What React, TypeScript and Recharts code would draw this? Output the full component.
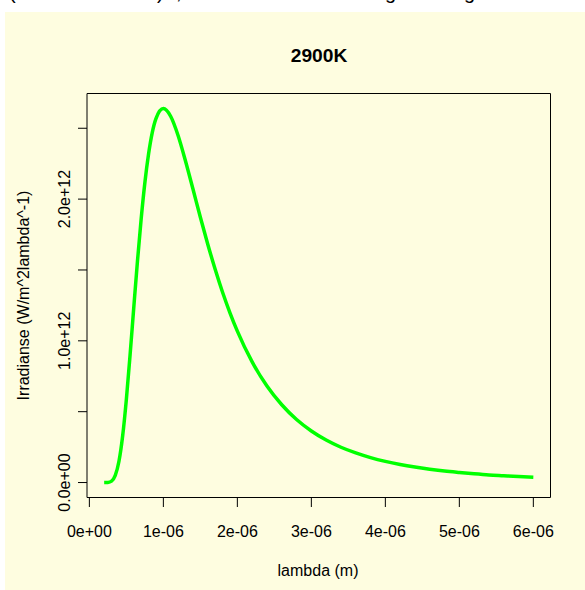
import React from 'react';
import { LineChart, Line, XAxis, YAxis, ReferenceArea } from 'recharts';

// wavelength (micrometres) and irradiance (units of 1e12 W/m^2/m)
const lambdaUm = [
  0.2, 0.25, 0.3, 0.35, 0.4, 0.45, 0.5, 0.55, 0.6, 0.65, 0.7, 0.75, 0.8, 0.9,
  1.0, 1.1, 1.2, 1.3, 1.4, 1.5, 1.6, 1.7, 1.8, 1.9, 2.0, 2.2, 2.4, 2.6, 2.8,
  3.0, 3.2, 3.4, 3.6, 3.8, 4.0, 4.2, 4.4, 4.6, 4.8, 5.0, 5.2, 5.4, 5.6, 5.8, 6.0,
];
const irradiance = [
  0.0, 0.001, 0.010, 0.050, 0.150, 0.330, 0.587, 0.899, 1.234, 1.562, 1.861, 2.116, 2.318, 2.568,
  2.639, 2.583, 2.447, 2.267, 2.071, 1.872, 1.682, 1.505, 1.343, 1.198, 1.068, 0.851, 0.681, 0.549, 0.445,
  0.364, 0.300, 0.249, 0.209, 0.176, 0.149, 0.127, 0.109, 0.094, 0.081, 0.071, 0.062, 0.054, 0.048, 0.042, 0.037,
];

const xTicks = [0, 1e-6, 2e-6, 3e-6, 4e-6, 5e-6, 6e-6];
const xTickLabels = ['0e+00', '1e-06', '2e-06', '3e-06', '4e-06', '5e-06', '6e-06'];
const yTicks = [0, 0.5e12, 1e12, 1.5e12, 2e12, 2.5e12];
const yTickLabels = ['0.0e+00', '', '1.0e+12', '', '2.0e+12', ''];

const X_DOMAIN: [number, number] = [-0.032e-6, 6.232e-6];
const Y_DOMAIN: [number, number] = [-0.1056e12, 2.7453e12];

const FONT = '"Liberation Sans", Arial, Helvetica, sans-serif';

const data = lambdaUm.map((l, i) => ({ x: l * 1e-6, y: irradiance[i] * 1e12 }));

const XTick = (props: any) => {
  const idx = xTicks.findIndex(t => Math.abs(t - props.payload.value) < 1e-12);
  return (
    <text x={props.x} y={537} textAnchor="middle" fontSize={16} fontFamily={FONT} fill="#000">
      {xTickLabels[idx] ?? ''}
    </text>
  );
};

const YTick = (props: any) => {
  const idx = yTicks.findIndex(t => Math.abs(t - props.payload.value) < 1);
  const label = yTickLabels[idx] ?? '';
  if (!label) return <g />;
  return (
    <text
      x={70}
      y={props.y}
      transform={`rotate(-90, 70, ${props.y})`}
      textAnchor="middle"
      fontSize={16}
      fontFamily={FONT}
      fill="#000"
    >
      {label}
    </text>
  );
};

export default function App() {
  return (
    <div style={{ position: 'absolute', left: 0, top: 0, width: 585, height: 590, background: '#fff', overflow: 'hidden' }}>
      {/* cut-off line of text above the figure */}
      <svg width={585} height={12} style={{ position: 'absolute', left: 0, top: 0 }}>
        <g fontFamily={FONT} fontSize={20} fill="#000">
          <text x={9} y={-1}>(</text>
          <text x={157} y={-1}>)</text>
          <text x={176} y={-1}>,</text>
          <text x={385} y={-1}>g</text>
          <text x={464} y={-1}>g</text>
        </g>
      </svg>
      <div style={{ position: 'absolute', left: 5, top: 12, width: 580, height: 578, background: '#FEFDE0' }} />
      <div style={{ position: 'absolute', left: 0, top: 0 }}>
        <LineChart width={585} height={590} data={data} margin={{ top: 93.5, right: 34.5, left: 0, bottom: 0 }}>
          <XAxis
            dataKey="x"
            type="number"
            domain={X_DOMAIN}
            allowDataOverflow
            ticks={xTicks}
            interval={0}
            height={92.5}
            axisLine={false}
            tickSize={9.5}
            tickLine={{ stroke: '#000', strokeWidth: 1 }}
            tick={<XTick />}
          />
          <YAxis
            type="number"
            domain={Y_DOMAIN}
            allowDataOverflow
            ticks={yTicks}
            interval={0}
            width={87}
            axisLine={false}
            tickSize={9}
            tickLine={{ stroke: '#000', strokeWidth: 1 }}
            tick={<YTick />}
          />
          <ReferenceArea
            x1={X_DOMAIN[0]}
            x2={X_DOMAIN[1]}
            y1={Y_DOMAIN[0]}
            y2={Y_DOMAIN[1]}
            fill="none"
            fillOpacity={0}
            stroke="#000"
            strokeWidth={1}
            strokeOpacity={1}
          />
          <Line
            type="monotone"
            dataKey="y"
            stroke="#00FF00"
            strokeWidth={3.5}
            dot={false}
            activeDot={false}
            isAnimationActive={false}
          />
        </LineChart>
      </div>
      <svg width={585} height={590} style={{ position: 'absolute', left: 0, top: 0, pointerEvents: 'none' }}>
        <g fontFamily={FONT} fill="#000">
          <text x={319} y={61.5} textAnchor="middle" fontSize={19.2} fontWeight="bold">2900K</text>
          <text x={318} y={576} textAnchor="middle" fontSize={16}>lambda (m)</text>
          <text x={28.5} y={295.5} transform="rotate(-90, 28.5, 295.5)" textAnchor="middle" fontSize={16}>
            Irradianse (W/m^2lambda^-1)
          </text>
        </g>
      </svg>
    </div>
  );
}
